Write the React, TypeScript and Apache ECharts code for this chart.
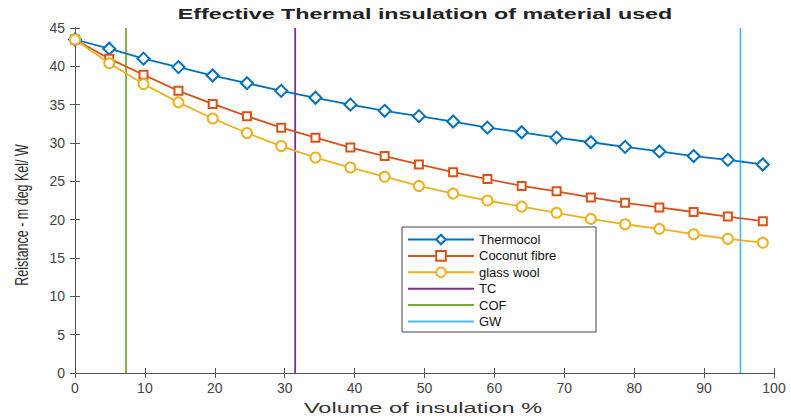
import { useEffect, useRef } from "react";
import * as echarts from "echarts";

const volume = [0, 4.9, 9.8, 14.8, 19.7, 24.6, 29.5, 34.4, 39.4, 44.3, 49.2, 54.1, 59.0, 63.9, 68.9, 73.8, 78.7, 83.6, 88.5, 93.4, 98.4];
const thermocol = [43.5, 42.3, 41.0, 39.9, 38.8, 37.8, 36.8, 35.9, 35.0, 34.2, 33.5, 32.8, 32.0, 31.4, 30.7, 30.1, 29.5, 28.9, 28.3, 27.8, 27.2];
const coconutFibre = [43.5, 41.0, 38.9, 36.8, 35.1, 33.5, 32.0, 30.7, 29.4, 28.3, 27.2, 26.2, 25.3, 24.4, 23.7, 22.9, 22.2, 21.6, 21.0, 20.4, 19.8];
const glassWool = [43.5, 40.4, 37.7, 35.3, 33.2, 31.3, 29.6, 28.1, 26.8, 25.6, 24.4, 23.4, 22.5, 21.7, 20.9, 20.1, 19.4, 18.8, 18.1, 17.5, 17.0];
const limitNames = ["TC", "COF", "GW"];
const limitX = [31.5, 7.3, 95.2];
const yRange = [0, 45];

const FONT = "'Liberation Sans', Arial, Helvetica, sans-serif";
const curveColors = ["#0072BD", "#D95319", "#EDB120"];
const limitColors = ["#7E2F8E", "#77AC30", "#4DBEEE"];

export default function App() {
  const ref = useRef<HTMLDivElement>(null);
  useEffect(() => {
    document.body.style.margin = "0";
    const chart = echarts.init(ref.current!, undefined, { renderer: "svg" });
    const curves = [
      { name: "Thermocol", data: thermocol, symbol: "emptyDiamond", size: 12 },
      { name: "Coconut fibre", data: coconutFibre, symbol: "emptyRect", size: 8 },
      { name: "glass wool", data: glassWool, symbol: "emptyCircle", size: 10 },
    ];
    const axisLine = { show: true, lineStyle: { color: "#555", width: 1 } };
    const tick = { show: true, inside: true, length: 5, lineStyle: { color: "#555" } };
    const option: any = {
      animation: false,
      backgroundColor: "#fff",
      grid: { left: 75, right: 17, top: 28, bottom: 46 },
      xAxis: [
        {
          type: "value", min: 0, max: 100, interval: 10,
          axisLine, axisTick: tick,
          axisLabel: { fontSize: 14, color: "#444", fontFamily: FONT, margin: 8 },
          splitLine: { show: false },
        },
        {
          type: "value", min: 0, max: 100, interval: 10, position: "top",
          axisLine, axisTick: tick,
          axisLabel: { show: false }, splitLine: { show: false },
        },
      ],
      yAxis: [
        {
          type: "value", min: yRange[0], max: yRange[1], interval: 5,
          axisLine, axisTick: tick,
          axisLabel: { fontSize: 14, color: "#444", fontFamily: FONT, margin: 10 },
          splitLine: { show: false },
        },
        {
          type: "value", min: yRange[0], max: yRange[1], interval: 5, position: "right",
          axisLine, axisTick: tick,
          axisLabel: { show: false }, splitLine: { show: false },
        },
      ],
      legend: {
        orient: "vertical", left: 402, top: 227,
        itemWidth: 66, itemHeight: 12, itemGap: 3.4,
        padding: [6, 5, 4, 5],
        borderColor: "#444", borderWidth: 1, backgroundColor: "#fff",
        formatter: "{t|{name}}",
        textStyle: {
          fontSize: 13, color: "#111", fontFamily: FONT,
          rich: { t: { width: 112, fontSize: 13, lineHeight: 12, color: "#111", fontFamily: FONT } },
        },
        data: [
          ...curves.map((c) => c.name),
          ...limitNames.map((n) => ({ name: n, itemStyle: { opacity: 0 } })),
        ],
      },
      graphic: [
        {
          type: "text", x: 425, y: 14, scaleX: 1.55,
          style: { text: "Effective Thermal insulation of material used", font: `bold 15px ${FONT}`, fill: "#222", textAlign: "center", textVerticalAlign: "middle" },
        },
        {
          type: "text", x: 423, y: 408, scaleX: 1.57,
          style: { text: "Volume of insulation %", font: `15px ${FONT}`, fill: "#333", textAlign: "center", textVerticalAlign: "middle" },
        },
        {
          type: "text", x: 22, y: 215, rotation: Math.PI / 2, scaleY: 1.4,
          style: { text: "Reistance - m deg Kel/ W", font: `12.5px ${FONT}`, fill: "#333", textAlign: "center", textVerticalAlign: "middle" },
        },
      ],
      series: [
        ...curves.map((c, i) => ({
          name: c.name, type: "line",
          data: volume.map((x, j) => [x, c.data[j]]),
          symbol: c.symbol, symbolSize: c.size,
          color: curveColors[i],
          itemStyle: { color: curveColors[i], borderWidth: 1.5 },
          lineStyle: { color: curveColors[i], width: 1.8 },
          z: 3,
        })),
        ...limitNames.map((n, i) => ({
          name: n, type: "line",
          data: [[limitX[i], yRange[0]], [limitX[i], yRange[1]]],
          symbol: "none", color: limitColors[i],
          lineStyle: { color: limitColors[i], width: 1.8 },
          z: 2,
        })),
      ],
    };
    chart.setOption(option);
    return () => chart.dispose();
  }, []);
  return <div ref={ref} style={{ position: "absolute", left: 0, top: 0, width: 791, height: 419 }} />;
}
